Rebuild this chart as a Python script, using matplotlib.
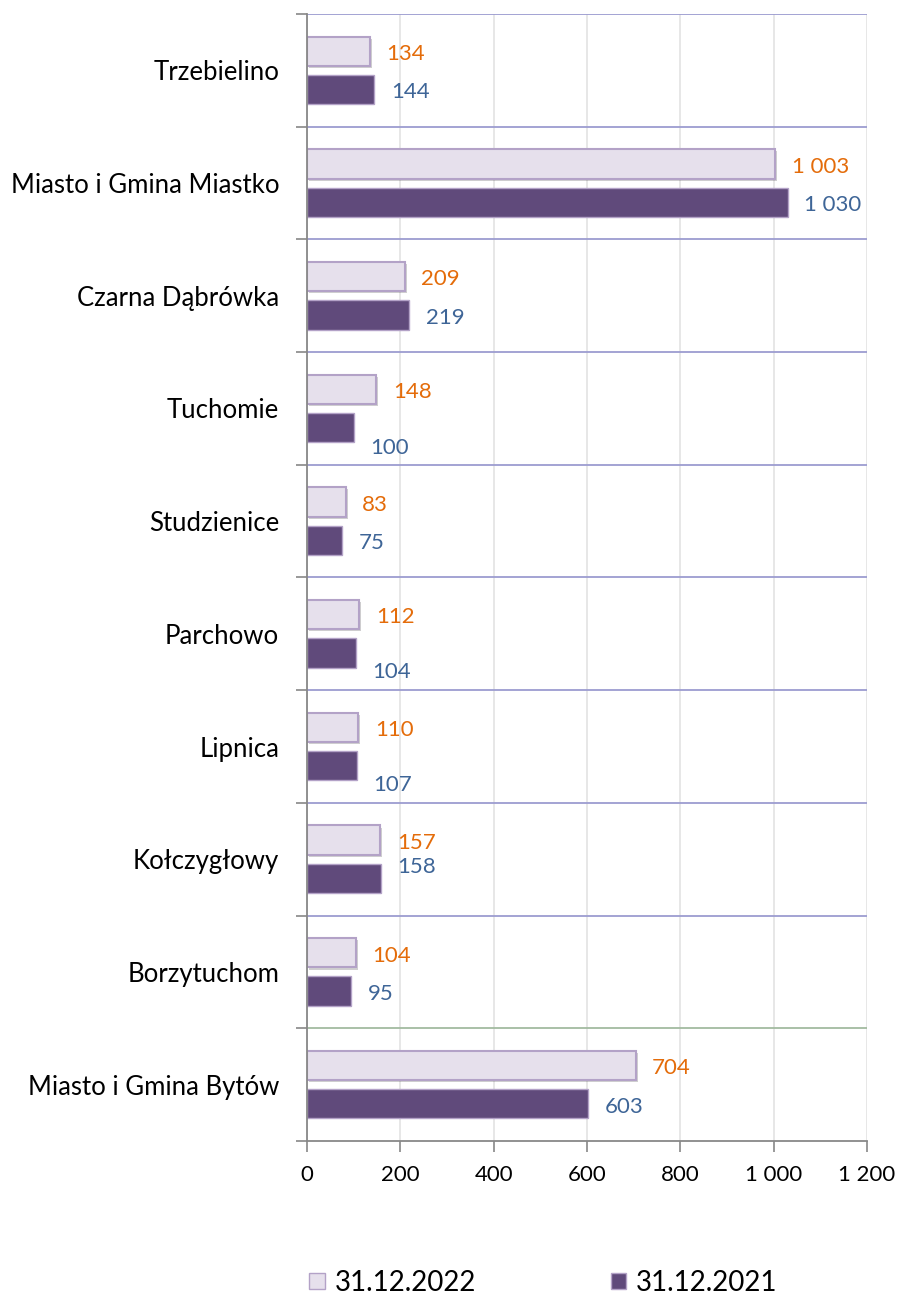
import matplotlib.pyplot as plt
import numpy as np
from matplotlib.patches import Patch
import matplotlib.patheffects as pe

plt.rcParams['font.family'] = ['Lato', 'DejaVu Sans']

gminy = ['Trzebielino', 'Miasto i Gmina Miastko', 'Czarna Dąbrówka', 'Tuchomie',
         'Studzienice', 'Parchowo', 'Lipnica', 'Kołczygłowy', 'Borzytuchom',
         'Miasto i Gmina Bytów']
v2022 = [134, 1003, 209, 148, 83, 112, 110, 157, 104, 704]
v2021 = [144, 1030, 219, 100, 75, 104, 107, 158, 95, 603]
xticks = [0, 200, 400, 600, 800, 1000, 1200]
xticklabels = ['0', '200', '400', '600', '800', '1 000', '1 200']

# vertical nudges (points) for the 2021 labels, as placed in the original
dy2021 = [0, 0, 0, -13, 0, -12, -12, 10, 0, 0]

def fmt(v):
    return f'{v:,}'.replace(',', ' ')

fig = plt.figure(figsize=(9.01, 12.97), dpi=100)
ax = fig.add_axes([0.3407, 0.1203, 0.6216, 0.8689])

y = np.arange(len(gminy))
h = 0.26
off = 0.17

shadow = [pe.SimplePatchShadow(offset=(1.5, -1.5), alpha=0.25), pe.Normal()]
b1 = ax.barh(y - off, v2022, height=h, color='#E6E0EC', edgecolor='#B3A2C7', linewidth=1.5, zorder=3)
b2 = ax.barh(y + off, v2021, height=h, color='#604A7B', edgecolor='#B3A2C7', linewidth=1.0, zorder=3)
for r in b1:
    r.set_path_effects(shadow)

for i in range(len(gminy)):
    ax.annotate(fmt(v2022[i]), (v2022[i], y[i] - off), xytext=(12, -2), textcoords='offset points',
                ha='left', va='center', color='#E46C0A', fontsize=16)
    ax.annotate(fmt(v2021[i]), (v2021[i], y[i] + off), xytext=(12, dy2021[i] - 2), textcoords='offset points',
                ha='left', va='center', color='#3E6597', fontsize=16)

ax.set_ylim(len(gminy) - 0.5, -0.5)
ax.set_xlim(0, 1200)

# category separators
for k in range(len(gminy)):
    col = '#A3BBA0' if k == len(gminy) - 1 else '#9C9CD0'
    ax.axhline(k - 0.5, color=col, linewidth=1.3, zorder=2)

ax.set_xticks(xticks)
ax.set_xticklabels(xticklabels, fontsize=16)
ax.set_yticks(y)
ax.set_yticklabels(gminy, fontsize=18.5)
ax.tick_params(axis='y', length=0, pad=20)
ax.set_yticks(np.arange(len(gminy) + 1) - 0.5, minor=True)
ax.tick_params(axis='y', which='minor', length=8, color='#888888', width=1.2)
ax.tick_params(axis='x', length=8, color='#888888', width=1.2, pad=9)

ax.grid(axis='x', color='#E3E3E3', linewidth=1.2, zorder=0)
for s in ['top', 'right']:
    ax.spines[s].set_visible(False)
for s in ['left', 'bottom']:
    ax.spines[s].set_color('#888888')
    ax.spines[s].set_linewidth(1.3)
    ax.spines[s].set_zorder(4)

handles = [Patch(facecolor='#E6E0EC', edgecolor='#B3A2C7', label='31.12.2022'),
           Patch(facecolor='#604A7B', edgecolor='#B3A2C7', label='31.12.2021')]
fig.legend(handles=handles, loc='center', bbox_to_anchor=(0.603, 0.011), ncol=2, frameon=False,
           fontsize=20, handlelength=0.55, handleheight=0.55, handletextpad=0.36, columnspacing=4.85)

fig.savefig('out.png', dpi=100)
